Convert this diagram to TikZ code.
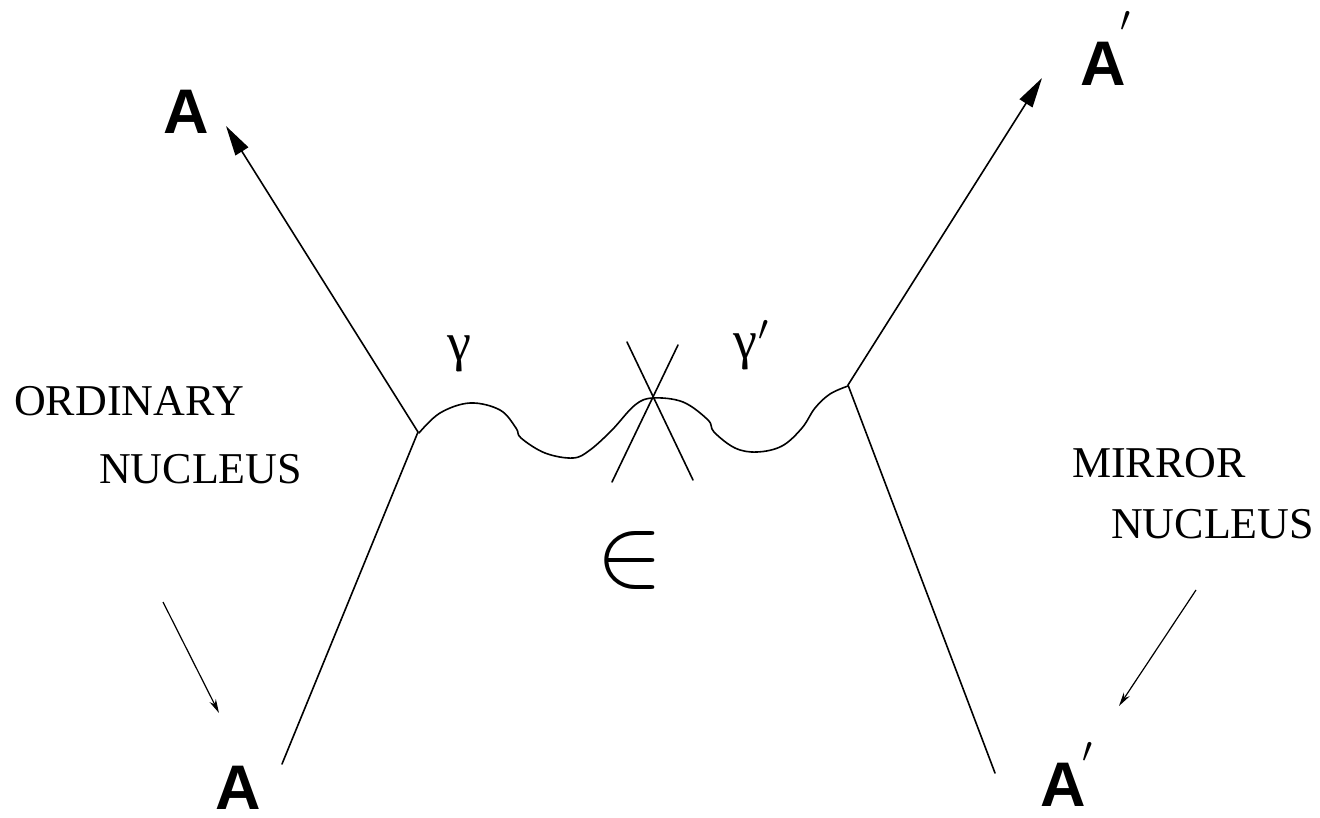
\RequirePackage{fix-cm}
\documentclass[tikz,border=0pt]{standalone}
\usepackage{fontspec}
\setmainfont{Liberation Serif}
\newfontfamily\labfont{Liberation Sans}
\usetikzlibrary{arrows.meta}
\newcommand{\myprime}[2]{\kern#1\raisebox{#2}{\fontsize{36}{36}\selectfont$\prime$}}
\begin{document}
\begin{tikzpicture}[x=1pt,y=-1pt,
  line/.style={line width=1.6pt,line cap=round},
  bigarrow/.style={line,-{Triangle[length=30pt,width=15pt]}},
  smallarrow/.style={line width=1.2pt,-{Stealth[length=14pt,width=7pt]}},
  Alab/.style={font=\labfont\bfseries\fontsize{63}{63}\selectfont,inner sep=0pt,anchor=base west},
  txt/.style={font=\fontsize{44}{48}\selectfont,inner sep=0pt,anchor=west},
  glab/.style={font=\fontsize{54}{54}\selectfont,inner sep=0pt,anchor=base west}]
\useasboundingbox (0,0) rectangle (1320,817);
% vertices and ends
\coordinate (vl) at (418,432);
\coordinate (vr) at (848,385);
\coordinate (bl) at (282,764);
\coordinate (tl) at (226,126);
\coordinate (br) at (995,773);
\coordinate (tr) at (1042,78);
\coordinate (x) at (653,398);
\coordinate (c1a) at (627,342);
\coordinate (c1b) at (693,480);
\coordinate (c2a) at (678,345);
\coordinate (c2b) at (612,482);
% fermion lines
\draw[line] (bl) -- (vl);
\draw[bigarrow] (vl) -- (tl);
\draw[line] (br) -- (vr);
\draw[bigarrow] (vr) -- (tr);
% photon (wavy) line
\draw[line,line join=round] plot[smooth,tension=0.6] coordinates {(419,433) (440,413) (470,403) (500,410) (516,428) (521,438) (545,453) (573,458) (590,450) (612,430) (635,405) (653,398) (683,402) (708,420) (714,432) (735,448) (757,452) (782,446) (802,428) (815,408) (830,394) (848,386)};
% cross
\draw[line] (c1a) -- (c1b);
\draw[line] (c2a) -- (c2b);
% labels
\node[Alab] (Atl) at (163,133) {A};
\node[Alab] (Abl) at (215,809) {A};
\node[Alab] (Atr) at (1080,85) {A\myprime{-5pt}{54pt}};
\node[Alab] (Abr) at (1040,806) {A\myprime{-3pt}{44pt}};
\node[glab] (g1) at (447,360) {γ};
\node[glab] (g2) at (733,358) {γ\myprime{1pt}{18pt}};
\node[font=\fontsize{100}{100}\selectfont,inner sep=0pt] (eps) at (630,560) {$\in$};
\node[txt] (ord) at (14,401) {ORDINARY};
\node[txt] (nuc1) at (99,469) {NUCLEUS};
\node[txt] (mir) at (1072,463) {MIRROR};
\node[txt] (nuc2) at (1111,524) {NUCLEUS};
% pointers
\coordinate (p1a) at (163,602);
\coordinate (p1b) at (219,713);
\coordinate (p2a) at (1196,590);
\coordinate (p2b) at (1119,706);
\draw[smallarrow] (p1a) -- (p1b);
\draw[smallarrow] (p2a) -- (p2b);
\end{tikzpicture}
\end{document}
